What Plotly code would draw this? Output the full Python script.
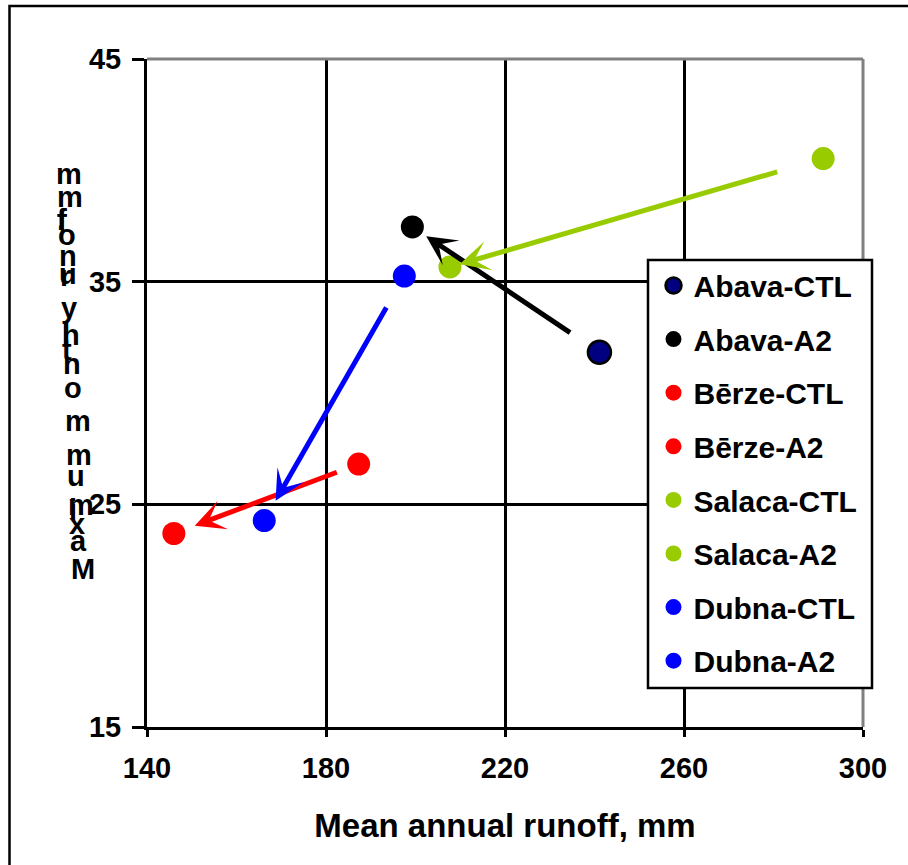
import plotly.graph_objects as go

# Runoff change per river: control climate (CTL) vs. A2 scenario
rivers = ["Abava", "Bērze", "Salaca", "Dubna"]
ctl_runoff = [241.1, 187.3, 291.1, 197.5]
ctl_max = [31.83, 26.81, 40.53, 35.25]
a2_runoff = [199.3, 146.0, 207.7, 166.2]
a2_max = [37.46, 23.69, 35.66, 24.27]

x_ticks = [140, 180, 220, 260, 300]
y_ticks = [15, 25, 35, 45]

# styling
ctl_colors = ["#000080", "#FF0000", "#99CC00", "#0000FF"]
a2_colors = ["#000000", "#FF0000", "#99CC00", "#0000FF"]
arrow_colors = ["#000000", "#FF0000", "#99CC00", "#0000FF"]
# arrows run from CTL towards A2, trimmed at both ends (fraction of the segment)
arrow_trim = [(0.149, 0.926), (0.110, 0.887), (0.119, 0.974), (0.122, 0.919)]

FONT = "Liberation Sans, Arial, sans-serif"
W, H = 908, 865
ML, MR, MT, MB = 147, 45, 59, 138
PW, PH = W - ML - MR, H - MT - MB


def px_x(px):
    return (px - ML) / PW


def px_y(py):
    return (MT + PH - py) / PH


fig = go.Figure()

for i, r in enumerate(rivers):
    fig.add_trace(go.Scatter(
        x=[ctl_runoff[i]], y=[ctl_max[i]], mode="markers", name=f"{r}-CTL",
        legendgroup=f"{r}-CTL",
        marker=dict(size=23, color=ctl_colors[i],
                    line=dict(color="#000000", width=2.5 if i == 0 else 0)),
    ))
    fig.add_trace(go.Scatter(
        x=[a2_runoff[i]], y=[a2_max[i]], mode="markers", name=f"{r}-A2",
        legendgroup=f"{r}-A2",
        marker=dict(size=23, color=a2_colors[i], line=dict(width=0)),
    ))

annotations = []
for i in range(len(rivers)):
    dx = a2_runoff[i] - ctl_runoff[i]
    dy = a2_max[i] - ctl_max[i]
    t0, t1 = arrow_trim[i]
    annotations.append(dict(
        x=ctl_runoff[i] + t1 * dx, y=ctl_max[i] + t1 * dy,
        ax=ctl_runoff[i] + t0 * dx, ay=ctl_max[i] + t0 * dy,
        xref="x", yref="y", axref="x", ayref="y", text="",
        showarrow=True, arrowhead=3, arrowsize=1, arrowwidth=5,
        arrowcolor=arrow_colors[i], standoff=0, startstandoff=0,
    ))

# y-axis title, set bottom-to-top as a column of upright glyphs;
# glyph_px holds each glyph's vertical centre in page pixels (spaces skipped)
y_title = "Maximum monthly runoff, mm"
glyph_px = [569, 543, 526, 512, 507, 478, 457, None, 423, 390, 366, 352, 337,
            337, 310, None, 278, 276, 258, 237, 222, 222, 222, None, 199, 176]
fs = 29
for ch, cy in zip(y_title, glyph_px):
    if cy is None:
        continue
    if ch.islower() or ch == ",":
        cy -= 2
    left = 56.7 + (cy - 175) * (15.0 / 392.0) - 3
    annotations.append(dict(
        x=px_x(left), y=px_y(cy), xref="paper", yref="paper",
        text=ch, showarrow=False, xanchor="left", yanchor="middle",
        font=dict(family=FONT, size=fs, color="#000000", weight="bold"),
    ))

shapes = [
    # grey top and right plot border
    dict(type="line", xref="paper", yref="paper", x0=0, x1=1, y0=1, y1=1,
         line=dict(color="#808080", width=3), layer="above"),
    dict(type="line", xref="paper", yref="paper", x0=1, x1=1, y0=0, y1=1,
         line=dict(color="#808080", width=3), layer="above"),
    # legend box
    dict(type="rect", xref="paper", yref="paper",
         x0=px_x(648), x1=px_x(872), y0=px_y(688), y1=px_y(260),
         fillcolor="#FFFFFF", line=dict(color="#000000", width=2.5), layer="above"),
    # outer chart frame
    dict(type="rect", xref="paper", yref="paper",
         x0=px_x(9.5), x1=px_x(W + 20), y0=px_y(H + 20), y1=px_y(6),
         line=dict(color="#000000", width=2.5), layer="above"),
]

fig.update_layout(
    width=W, height=H,
    margin=dict(l=ML, r=MR, t=MT, b=MB),
    paper_bgcolor="#FFFFFF", plot_bgcolor="#FFFFFF",
    font=dict(family=FONT, color="#000000", weight="bold"),
    showlegend=True,
    legend=dict(
        x=px_x(653.5), y=px_y(259.5), xanchor="left", yanchor="top",
        bgcolor="rgba(0,0,0,0)", borderwidth=0,
        font=dict(family=FONT, size=30, color="#000000", weight="bold"),
        tracegroupgap=11.6, itemsizing="trace",
    ),
    annotations=annotations,
    shapes=shapes,
    xaxis=dict(
        range=[140, 300], tickvals=x_ticks, ticks="outside", ticklen=7,
        tickwidth=3, tickcolor="#000000",
        showline=True, linecolor="#000000", linewidth=3,
        showgrid=True, gridcolor="#000000", gridwidth=2.5, zeroline=False,
        tickfont=dict(family=FONT, size=29, weight="bold"),
        ticklabelstandoff=6,
        title=dict(text="Mean annual runoff, mm", standoff=32,
                   font=dict(family=FONT, size=33, weight="bold")),
        automargin=False,
    ),
    yaxis=dict(
        range=[15, 45], tickvals=y_ticks, ticks="outside", ticklen=12,
        tickwidth=3, tickcolor="#000000",
        showline=True, linecolor="#000000", linewidth=3,
        showgrid=True, gridcolor="#000000", gridwidth=2.5, zeroline=False,
        tickfont=dict(family=FONT, size=29, weight="bold"),
        ticklabelstandoff=5,
        automargin=False,
    ),
)

fig.write_html("out.html")
